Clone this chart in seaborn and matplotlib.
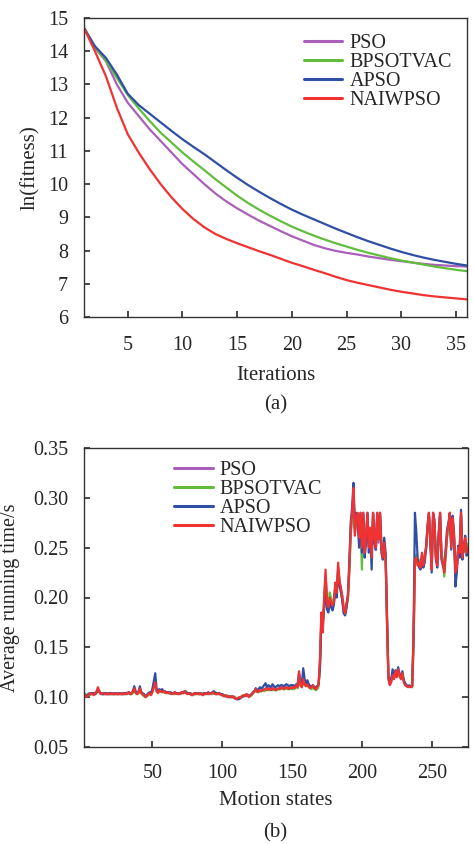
import numpy as np
import pandas as pd
import seaborn as sns
from matplotlib import pyplot as plt

# ---------------------------------------------------------------------------------------------------------------------
# (a) convergence: ln(fitness) per iteration
iterations = list(range(1, 37))
pso_fit = [14.7, 14.1, 13.7, 13.0, 12.45, 12.05, 11.65, 11.3, 10.95, 10.6,
           10.3, 10.0, 9.72, 9.48, 9.27, 9.08, 8.9, 8.74, 8.58, 8.43,
           8.3, 8.17, 8.07, 7.99, 7.93, 7.88, 7.82, 7.77, 7.72, 7.68,
           7.64, 7.6, 7.57, 7.55, 7.53, 7.52]
bpsotvac_fit = [14.7, 14.12, 13.72, 13.2, 12.68, 12.28, 11.9, 11.55, 11.25, 10.95,
                10.68, 10.42, 10.15, 9.9, 9.65, 9.43, 9.23, 9.05, 8.88, 8.72,
                8.58, 8.45, 8.33, 8.22, 8.12, 8.02, 7.93, 7.85, 7.77, 7.7,
                7.64, 7.58, 7.52, 7.47, 7.42, 7.38]
apso_fit = [14.7, 14.15, 13.8, 13.3, 12.72, 12.38, 12.12, 11.86, 11.6, 11.35,
            11.12, 10.9, 10.66, 10.42, 10.19, 9.97, 9.77, 9.58, 9.4, 9.23,
            9.08, 8.94, 8.8, 8.66, 8.53, 8.4, 8.28, 8.17, 8.06, 7.96,
            7.87, 7.79, 7.72, 7.66, 7.6, 7.55]
naiwpso_fit = [14.7, 14.0, 13.25, 12.3, 11.5, 10.95, 10.45, 10.0, 9.6, 9.25,
               8.95, 8.7, 8.5, 8.35, 8.22, 8.1, 7.98, 7.87, 7.75, 7.63,
               7.53, 7.42, 7.32, 7.21, 7.11, 7.03, 6.96, 6.89, 6.82, 6.76,
               6.71, 6.66, 6.62, 6.59, 6.56, 6.53]

# (b) average running time per motion state, in milliseconds
pso_ms = [104, 102, 101, 102, 103, 103, 104, 103, 104, 105,
          108, 106, 104, 103, 104, 104, 103, 103, 104, 103,
          103, 104, 103, 103, 104, 103, 103, 104, 103, 103,
          104, 103, 104, 104, 103, 105, 107, 105, 104, 104,
          107, 105, 103, 102, 101, 102, 103, 103, 103, 106,
          112, 113, 107, 105, 106, 106, 106, 105, 105, 105,
          104, 105, 104, 104, 103, 104, 104, 103, 104, 103,
          104, 105, 105, 105, 104, 103, 104, 103, 102, 103,
          104, 103, 104, 103, 103, 103, 104, 103, 104, 103,
          104, 103, 104, 105, 104, 103, 103, 104, 102, 103,
          102, 101, 102, 101, 100, 101, 100, 101, 100, 99,
          98, 99, 100, 100, 101, 102, 102, 103, 101, 101,
          102, 105, 105, 107, 106, 105, 106, 107, 108, 107,
          109, 108, 108, 109, 108, 108, 109, 108, 107, 108,
          109, 110, 109, 109, 110, 109, 110, 109, 109, 110,
          109, 110, 111, 111, 122, 115, 111, 116, 115, 112,
          115, 111, 110, 109, 111, 110, 109, 109, 112, 135,
          180, 170, 195, 222, 198, 188, 198, 196, 190, 198,
          212, 208, 230, 218, 208, 202, 190, 185, 192, 202,
          228, 265, 282, 305, 265, 278, 283, 262, 282, 252,
          283, 248, 260, 283, 252, 268, 242, 283, 262, 248,
          283, 255, 283, 252, 242, 252, 240, 175, 118, 113,
          116, 124, 119, 125, 121, 127, 121, 119, 122, 116,
          113, 111, 111, 110, 111, 110, 155, 235, 242, 234,
          236, 232, 242, 234, 242, 250, 268, 283, 262, 230,
          283, 272, 242, 234, 260, 283, 242, 236, 228, 243,
          262, 270, 283, 252, 278, 260, 228, 232, 248, 247,
          283, 242, 248, 258, 247, 252]
bpsotvac_ms = [102, 103, 101, 103, 102, 103, 104, 103, 103, 104,
               107, 106, 104, 104, 103, 103, 104, 103, 103, 104,
               103, 103, 104, 103, 103, 104, 103, 103, 104, 103,
               103, 104, 104, 103, 103, 104, 106, 105, 103, 104,
               106, 104, 102, 101, 100, 101, 102, 103, 104, 108,
               114, 110, 106, 105, 106, 105, 105, 106, 104, 105,
               104, 104, 103, 104, 104, 103, 104, 104, 103, 104,
               104, 104, 105, 106, 104, 104, 103, 103, 102, 103,
               103, 104, 103, 104, 103, 102, 103, 103, 104, 103,
               104, 104, 103, 104, 105, 104, 103, 103, 103, 102,
               101, 101, 102, 101, 100, 100, 101, 100, 100, 99,
               99, 98, 100, 101, 101, 102, 101, 102, 102, 101,
               102, 104, 106, 106, 106, 105, 106, 106, 107, 106,
               107, 108, 107, 107, 108, 107, 108, 107, 107, 108,
               108, 108, 109, 108, 108, 109, 108, 108, 109, 108,
               108, 109, 110, 109, 118, 113, 110, 115, 112, 111,
               112, 110, 109, 108, 110, 108, 107, 108, 111, 132,
               178, 172, 198, 220, 200, 192, 205, 198, 195, 200,
               210, 205, 228, 215, 205, 198, 185, 183, 190, 198,
               225, 262, 280, 300, 268, 275, 280, 258, 280, 228,
               280, 250, 258, 282, 255, 265, 245, 280, 265, 250,
               280, 258, 282, 255, 245, 250, 242, 172, 118, 114,
               117, 123, 120, 124, 122, 126, 120, 120, 123, 117,
               113, 112, 111, 111, 111, 110, 150, 232, 243, 236,
               238, 233, 240, 235, 243, 248, 265, 280, 263, 232,
               282, 270, 243, 236, 258, 280, 245, 238, 221, 240,
               260, 268, 282, 255, 275, 258, 230, 233, 246, 248,
               282, 244, 246, 256, 248, 254]
apso_ms = [103, 102, 101, 103, 104, 103, 104, 104, 103, 105,
           108, 105, 104, 103, 103, 104, 104, 103, 104, 104,
           104, 103, 104, 104, 103, 104, 104, 103, 104, 104,
           104, 104, 105, 104, 104, 106, 111, 106, 104, 105,
           111, 105, 104, 103, 101, 102, 104, 105, 104, 108,
           116, 124, 108, 107, 108, 107, 108, 106, 106, 105,
           105, 104, 105, 104, 104, 105, 104, 104, 104, 104,
           105, 104, 106, 105, 104, 104, 104, 103, 103, 104,
           104, 104, 104, 103, 104, 103, 104, 104, 104, 105,
           104, 104, 105, 106, 104, 104, 104, 104, 103, 103,
           102, 101, 101, 100, 101, 100, 100, 100, 99, 98,
           98, 98, 99, 100, 101, 101, 102, 102, 101, 102,
           103, 105, 106, 109, 107, 108, 110, 109, 110, 112,
           114, 110, 112, 111, 110, 113, 111, 110, 111, 112,
           111, 112, 112, 111, 112, 113, 112, 111, 112, 112,
           112, 111, 113, 112, 124, 116, 112, 129, 118, 113,
           117, 113, 111, 111, 112, 110, 110, 111, 113, 130,
           175, 175, 190, 215, 188, 185, 195, 190, 187, 193,
           208, 200, 225, 212, 206, 196, 184, 182, 190, 203,
           235, 275, 290, 315, 270, 285, 278, 250, 285, 245,
           285, 240, 255, 285, 245, 265, 228, 285, 255, 248,
           285, 260, 285, 245, 238, 260, 245, 185, 122, 113,
           118, 128, 121, 127, 123, 130, 123, 120, 126, 117,
           114, 112, 111, 112, 111, 111, 165, 285, 265, 238,
           230, 228, 240, 230, 235, 250, 272, 285, 255, 225,
           285, 278, 238, 230, 265, 285, 238, 232, 228, 248,
           268, 275, 285, 248, 282, 265, 211, 225, 252, 240,
           288, 238, 252, 262, 242, 248]
naiwpso_ms = [103, 101, 100, 102, 103, 104, 103, 102, 104, 106,
              110, 105, 103, 104, 104, 103, 103, 104, 103, 103,
              104, 103, 103, 104, 103, 103, 104, 103, 103, 104,
              103, 104, 105, 103, 104, 106, 109, 104, 103, 105,
              109, 104, 103, 102, 100, 101, 103, 104, 102, 105,
              110, 115, 106, 104, 107, 106, 105, 106, 105, 104,
              105, 104, 104, 103, 104, 105, 103, 104, 103, 104,
              105, 104, 106, 104, 103, 104, 103, 102, 103, 104,
              103, 104, 103, 103, 104, 102, 103, 104, 103, 104,
              103, 104, 105, 104, 103, 103, 104, 103, 103, 102,
              101, 102, 101, 100, 101, 100, 101, 100, 99, 98,
              99, 100, 99, 101, 102, 101, 103, 102, 100, 102,
              103, 104, 106, 108, 105, 106, 107, 106, 107, 108,
              108, 107, 109, 108, 107, 109, 108, 107, 108, 109,
              108, 109, 110, 108, 109, 110, 109, 108, 110, 109,
              110, 109, 112, 110, 126, 112, 110, 118, 113, 111,
              113, 110, 109, 110, 112, 109, 108, 110, 113, 140,
              185, 165, 200, 228, 195, 190, 200, 195, 192, 196,
              215, 205, 235, 215, 210, 200, 188, 184, 195, 200,
              230, 270, 285, 310, 262, 280, 285, 260, 285, 250,
              285, 245, 262, 285, 250, 270, 240, 285, 260, 250,
              285, 258, 285, 250, 240, 255, 238, 180, 120, 112,
              115, 122, 118, 126, 120, 128, 122, 118, 124, 115,
              112, 111, 110, 111, 110, 111, 160, 238, 240, 232,
              235, 230, 245, 232, 240, 252, 270, 285, 260, 228,
              285, 275, 240, 232, 262, 285, 240, 235, 225, 245,
              265, 272, 285, 250, 280, 262, 225, 230, 250, 245,
              285, 240, 250, 260, 245, 250]
states = np.arange(1, len(naiwpso_ms) + 1)

methods = ['PSO', 'BPSOTVAC', 'APSO', 'NAIWPSO']
colors = ['#aa5fbb', '#62bd3c', '#2f4fa6', '#f03232']

sns.set_theme(style='ticks')
plt.rcParams['font.family'] = ['Liberation Serif', 'DejaVu Serif']
plt.rcParams['axes.edgecolor'] = '#333333'
plt.rcParams['axes.linewidth'] = 1.0
FS = 14.5

df_a = pd.DataFrame({'Iterations': iterations * 4,
                     'fit': pso_fit + bpsotvac_fit + apso_fit + naiwpso_fit,
                     'method': np.repeat(methods, len(iterations))})
df_b = pd.DataFrame({'state': np.tile(states, 4),
                     'time': np.array(pso_ms + bpsotvac_ms + apso_ms + naiwpso_ms) / 1000,
                     'method': np.repeat(methods, len(states))})

fig = plt.figure(figsize=(4.73, 8.44), dpi=100)
ax1 = fig.add_axes([84 / 473, (844 - 317) / 844, 383 / 473, 299 / 844])
ax2 = fig.add_axes([84 / 473, (844 - 747) / 844, 384 / 473, 299 / 844])

sns.lineplot(data=df_a, x='Iterations', y='fit', hue='method', palette=colors,
             linewidth=1.6, ax=ax1)
sns.lineplot(data=df_b, x='state', y='time', hue='method', palette=colors,
             linewidth=1.6, ax=ax2)

# top panel
ax1.set_xlim(1, 36)
ax1.set_ylim(6, 15)
ax1.set_xticks([5, 10, 15, 20, 25, 30, 35])
ax1.set_yticks(range(6, 16))
ax1.tick_params(axis='x', direction='in', length=4, pad=14, labelsize=FS, color='#333333')
ax1.tick_params(axis='y', direction='in', length=4, pad=11.5, labelsize=FS, color='#333333')
ax1.set_xlabel('Iterations', fontsize=FS + 0.5)
ax1.set_ylabel('ln(fitness)', fontsize=FS + 0.5)
ax1.xaxis.set_label_coords(0.5, -0.163)
ax1.yaxis.set_label_coords(-0.115, 0.5)
ax1.legend(frameon=False, fontsize=FS, loc='upper left', bbox_to_anchor=(0.575, 0.947),
           borderaxespad=0, borderpad=0, labelspacing=0.0, handlelength=1.9, handletextpad=0.35)

# bottom panel
ax2.set_xlim(1, 276)
ax2.set_ylim(0.05, 0.35)
ax2.set_xticks([50, 100, 150, 200, 250])
ax2.set_yticks([0.05, 0.10, 0.15, 0.20, 0.25, 0.30, 0.35])
ax2.yaxis.set_major_formatter(plt.FormatStrFormatter('%.2f'))
ax2.tick_params(axis='x', direction='in', length=4, pad=12, labelsize=FS, color='#333333')
ax2.tick_params(axis='y', direction='in', length=4, pad=11.5, labelsize=FS, right=True, color='#333333')
ax2.set_xlabel('Motion states', fontsize=FS + 0.5)
ax2.set_ylabel('Average running time/s', fontsize=FS)
ax2.xaxis.set_label_coords(0.5, -0.148)
ax2.yaxis.set_label_coords(-0.166, 0.5)
ax2.legend(frameon=False, fontsize=FS, loc='upper left', bbox_to_anchor=(0.235, 0.958),
           borderaxespad=0, borderpad=0, labelspacing=0.0, handlelength=1.9, handletextpad=0.35)

for ax in (ax1, ax2):
    for leg_line in ax.get_legend().get_lines():
        leg_line.set_linewidth(2.2)

fig.text(0.582, (844 - 405) / 844, '(a)', ha='center', va='center', fontsize=FS + 0.5)
fig.text(0.582, (844 - 833) / 844, '(b)', ha='center', va='center', fontsize=FS + 0.5)

fig.savefig('out.png', dpi=100)
